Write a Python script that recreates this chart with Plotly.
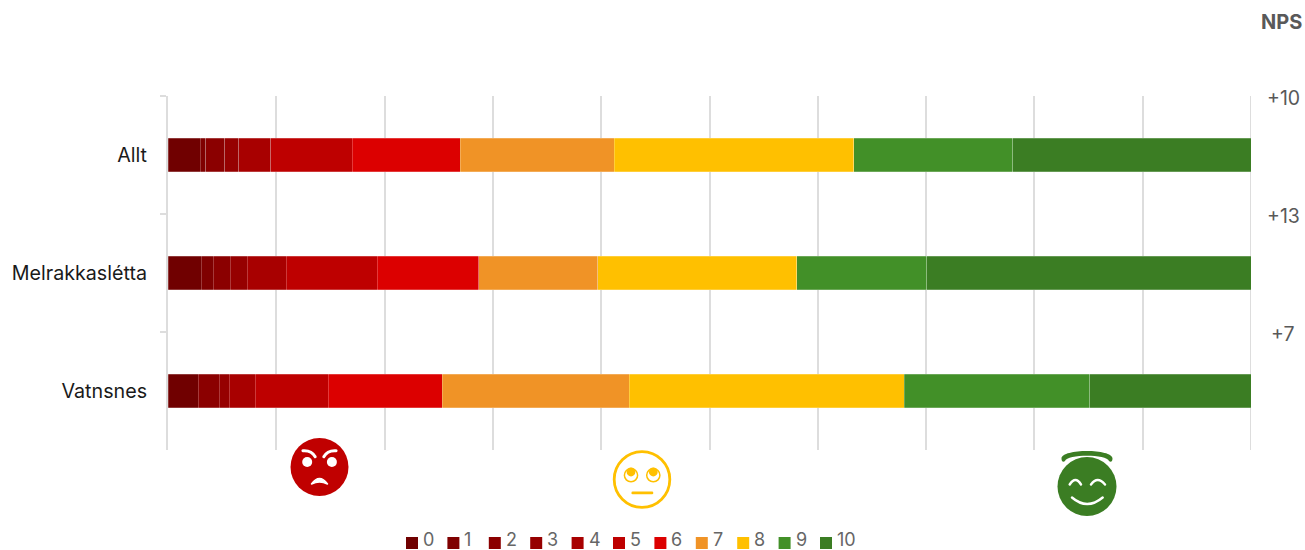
import base64
import plotly.graph_objects as go

categories = ["Allt", "Melrakkasl\u00e9tta", "Vatnsnes"]
scores = ["0", "1", "2", "3", "4", "5", "6", "7", "8", "9", "10"]
allt = [3.0, 0.5, 1.75, 1.3, 2.95, 7.5, 10.0, 14.2, 22.1, 14.7, 22.0]
melrakkasletta = [3.07, 1.11, 1.57, 1.57, 3.6, 8.4, 9.39, 10.99, 18.37, 12.0, 29.93]
vatnsnes = [2.8, 0.0, 1.94, 0.92, 2.4, 6.74, 10.5, 17.27, 25.39, 17.17, 14.87]
colors = ["#700000", "#7F0000", "#8B0000", "#960000", "#A80000", "#BE0000",
          "#DC0000", "#F09326", "#FFC000", "#429028", "#3B7D23"]
nps_labels = ["+10", "+13", "+7"]

FONT = "Inter"
WIDTH, HEIGHT = 1305, 550
LEFT, RIGHT, TOP, BOTTOM = 168, 1251, 96, 450
PW, PH = RIGHT - LEFT, BOTTOM - TOP


def px(x):
    return (x - LEFT) / PW


def py(y):
    return (BOTTOM - y) / PH


fig = go.Figure()
for i, score in enumerate(scores):
    fig.add_trace(go.Bar(
        name=score,
        y=categories,
        x=[allt[i], melrakkasletta[i], vatnsnes[i]],
        orientation="h",
        marker=dict(color=colors[i], line=dict(color="rgba(255,255,255,0.3)", width=0.75)),
        hoverinfo="x+y+name",
        showlegend=False,
    ))

ANGRY = """
<circle r="29" fill="#C00000"/>
<circle cx="-12.3" cy="-5" r="5" fill="#fff"/><circle cx="12.4" cy="-5" r="5" fill="#fff"/>
<path d="M-16.6 -16.3Q-8 -17 -4.3 -10.3M16.6 -16.3Q8 -17 4.3 -10.3" fill="none" stroke="#fff" stroke-width="3" stroke-linecap="round"/>
<path d="M-8 17Q0 6 8 17Q0 13 -8 17Z" fill="#fff" stroke="#fff" stroke-width="1.5" stroke-linejoin="round"/>
"""
NEUTRAL = """
<circle r="27.8" fill="none" stroke="#FFC000" stroke-width="2.8"/>
<circle cx="-11" cy="-4.3" r="6.6" fill="none" stroke="#FFC000" stroke-width="1.5"/>
<circle cx="11.3" cy="-4.3" r="6.6" fill="none" stroke="#FFC000" stroke-width="1.5"/>
<circle cx="-11" cy="-7.5" r="4.4" fill="#FFC000"/><circle cx="11.3" cy="-7.5" r="4.4" fill="#FFC000"/>
<path d="M-9.3 13.4H10" fill="none" stroke="#FFC000" stroke-width="2.6" stroke-linecap="round"/>
"""
HALO = """
<circle r="29.5" fill="#3B7D23"/>
<path d="M-25.5 -28C-25.5 -38 25.5 -38 25.5 -28C25.5 -24.5 23.5 -24 22 -25.5C20 -32.5 -20 -32.5 -22 -25.5C-23.5 -24 -25.5 -24.5 -25.5 -28Z" fill="#3B7D23"/>
<path d="M-17.3 -2Q-11.5 -11 -6 -2M4 -2Q10.5 -11 18 -2M-15 11Q0 24 15.7 11" fill="none" stroke="#fff" stroke-width="2.4" stroke-linecap="round"/>
"""


def face(svg, cx, cy):
    doc = ('<svg xmlns="http://www.w3.org/2000/svg" width="80" height="80" viewBox="-40 -40 80 80">'
           + svg + "</svg>")
    src = "data:image/svg+xml;base64," + base64.b64encode(doc.encode()).decode()
    return dict(source=src, xref="paper", yref="paper", x=px(cx - 40), y=py(cy - 40),
                sizex=80 / PW, sizey=80 / PH, sizing="stretch", xanchor="left", yanchor="top",
                layer="above")


annotations = [dict(xref="paper", yref="paper", x=px(1304), y=py(22), text="<b>NPS</b>",
                    xanchor="right", yanchor="middle", showarrow=False,
                    font=dict(family=FONT, size=20, color="#595959"))]
for i, label in enumerate(nps_labels):
    annotations.append(dict(xref="paper", yref="y", x=px(1283), y=i - 0.5, yshift=-2, text=label,
                            xanchor="center", yanchor="middle", showarrow=False,
                            font=dict(family=FONT, size=19.5, color="#595959")))

shapes = [dict(type="line", xref="x", yref="paper", x0=100, x1=100, y0=0, y1=1,
               line=dict(color="#DDDDDD", width=2), layer="below")]
for i, score in enumerate(scores):
    x0 = 406 + i * 41.4
    shapes.append(dict(type="rect", xref="paper", yref="paper", x0=px(x0), x1=px(x0 + 12),
                       y0=py(537), y1=py(549), fillcolor=colors[i], line=dict(width=0)))
    annotations.append(dict(xref="paper", yref="paper", x=px(x0 + 17), y=py(539.5), text=score,
                            xanchor="left", yanchor="middle", showarrow=False, borderpad=0, xshift=-1,
                            font=dict(family=FONT, size=18, color="#666666")))

fig.update_layout(
    width=WIDTH, height=HEIGHT,
    margin=dict(l=LEFT, r=WIDTH - RIGHT, t=TOP, b=HEIGHT - BOTTOM, pad=0, autoexpand=False),
    barmode="stack", bargap=0.712, showlegend=False,
    paper_bgcolor="white", plot_bgcolor="white",
    font=dict(family=FONT, color="#595959"),
    xaxis=dict(range=[0, 100], dtick=10, showticklabels=False, showgrid=True,
               gridcolor="#DDDDDD", gridwidth=2, zeroline=False, showline=False, ticks=""),
    yaxis=dict(range=[2.5, -0.5], type="category", showline=True, linecolor="#DDDDDD", linewidth=2,
               ticks="outside", tickson="boundaries", ticklen=6, tickwidth=2, tickcolor="#DDDDDD",
               showgrid=False, zeroline=False, ticklabelstandoff=15,
               tickfont=dict(family=FONT, size=19.7, color="#1A1A1A")),
    annotations=annotations,
    shapes=shapes,
    images=[face(ANGRY, 319.5, 467), face(NEUTRAL, 642, 479.5), face(HALO, 1087, 486.5)],
)

fig.write_html("out.html", config=dict(displayModeBar=False),
               post_script="document.body.style.margin='0';")
